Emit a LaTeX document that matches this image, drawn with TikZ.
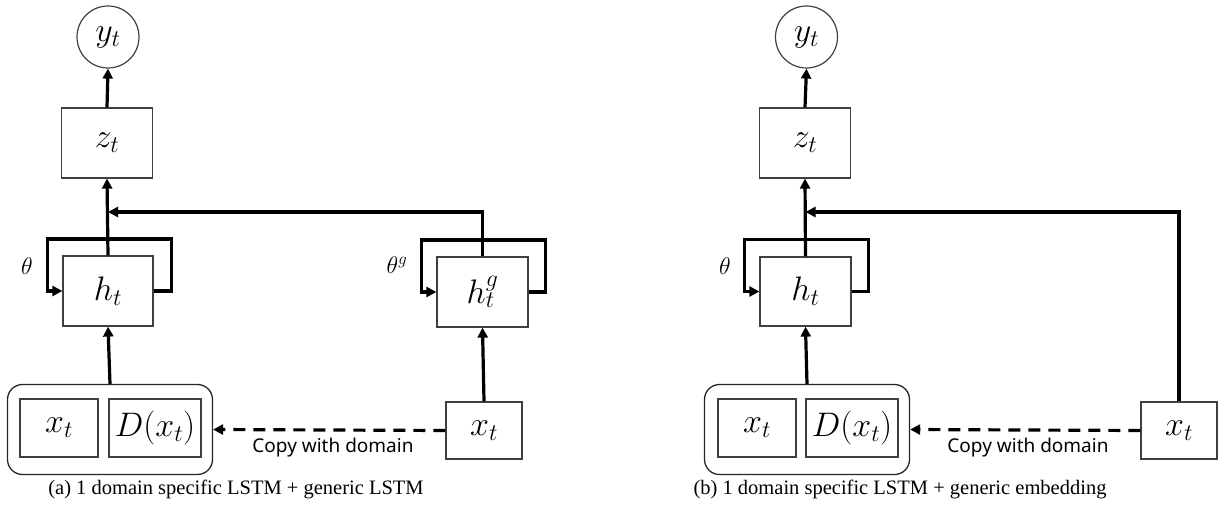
\RequirePackage{fix-cm}
\documentclass[tikz,border=0pt]{standalone}
\usepackage{fontspec}
\usetikzlibrary{arrows.meta}
\newfontfamily\labelfont{Noto Sans}
\newfontfamily\capfont{Liberation Serif}
\begin{document}
\begin{tikzpicture}[x=1pt,y=-1pt,
  box/.style={draw=black!75,line width=1.2pt,rectangle,inner sep=0pt,font=\fontsize{34}{38}\selectfont},
  circ/.style={draw=black!75,line width=1.2pt,circle,minimum size=62pt,inner sep=0pt,font=\fontsize{34}{38}\selectfont},
  outerbox/.style={draw=black!85,line width=1.3pt,rectangle,rounded corners=15pt,minimum width=205pt,minimum height=90pt},
  arr/.style={line width=3.2pt,-{Triangle[length=10pt,width=10pt]}},
  dasharr/.style={line width=3.2pt,dash pattern=on 12pt off 8pt,-{Triangle[length=10pt,width=10pt]}},
  loopline/.style={line width=3.2pt,-{Triangle[length=10pt,width=10pt]}},
  lbl/.style={font=\labelfont\fontsize{19}{22}\selectfont},
  theta/.style={font=\fontsize{24}{28}\selectfont},
  captext/.style={font=\capfont\fontsize{20.5}{24}\selectfont}]
\useasboundingbox (0,0) rectangle (1226,513);

% ---------- panel (a) ----------
\node[circ] (ya) at (108,37) {$y_t$};
\node[box,minimum width=91pt,minimum height=70pt] (za) at (107,143) {$z_t$};
\node[box,minimum width=90pt,minimum height=70pt] (ha) at (108,291) {$h_t$};
\node[outerbox] (oa) at (110,429.5) {};
\node[box,minimum width=78pt,minimum height=58pt] (xa) at (59,428) {$x_t$};
\node[box,minimum width=92pt,minimum height=58pt] (da) at (155,428) {$D(x_t)$};
\node[box,minimum width=91pt,minimum height=70pt] (hg) at (482.5,292) {$h_t^g$};
\node[box,minimum width=76pt,minimum height=57pt] (xg) at (484,430.5) {$x_t$};
\node[theta] (tha) at (27,266) {$\theta$};
\node[theta] (thg) at (397,265) {$\theta^g$};
\coordinate (ma) at (ha.north |- 0,212);

\draw[arr] (za.north) -- (ya.south);
\draw[arr] (ha.north) -- (za.south);
\draw[arr] (hg.north) |- (ma);
\draw[loopline] (ha.east) -- ++(18,0) -- ++(0,-52) -- ++(-124,0) -- ++(0,52) -- (ha.west);
\draw[loopline] (hg.east) -- ++(17,0) -- ++(0,-52) -- ++(-124,0) -- ++(0,52) -- (hg.west);
\draw[arr] (oa.north) -- (ha.south);
\draw[arr] (xg.north) -- (hg.south);
\draw[dasharr] (xg.west) -- (oa.east);
\node[lbl] (ca) at (333,448) {Copy with domain};
\node[captext] (capa) at (236,489) {(a) 1 domain specific LSTM + generic LSTM};

% ---------- panel (b) ----------
\node[circ] (yb) at (806.5,37) {$y_t$};
\node[box,minimum width=91pt,minimum height=70pt] (zb) at (805,143) {$z_t$};
\node[box,minimum width=91pt,minimum height=69pt] (hb) at (805.5,291.5) {$h_t$};
\node[outerbox] (ob) at (807,429.5) {};
\node[box,minimum width=78pt,minimum height=58pt] (xb) at (757,428) {$x_t$};
\node[box,minimum width=92pt,minimum height=58pt] (db) at (852,428) {$D(x_t)$};
\node[box,minimum width=76pt,minimum height=57pt] (xe) at (1179,430.5) {$x_t$};
\node[theta] (thb) at (725,266) {$\theta$};
\coordinate (mb) at (hb.north |- 0,212);

\draw[arr] (zb.north) -- (yb.south);
\draw[arr] (hb.north) -- (zb.south);
\draw[arr] (xe.north) |- (mb);
\draw[loopline] (hb.east) -- ++(17,0) -- ++(0,-52) -- ++(-124,0) -- ++(0,52) -- (hb.west);
\draw[arr] (ob.north) -- (hb.south);
\draw[dasharr] (xe.west) -- (ob.east);
\node[lbl] (cb) at (1028,448) {Copy with domain};
\node[captext] (capb) at (900,489) {(b) 1 domain specific LSTM + generic embedding};
\end{tikzpicture}
\end{document}
